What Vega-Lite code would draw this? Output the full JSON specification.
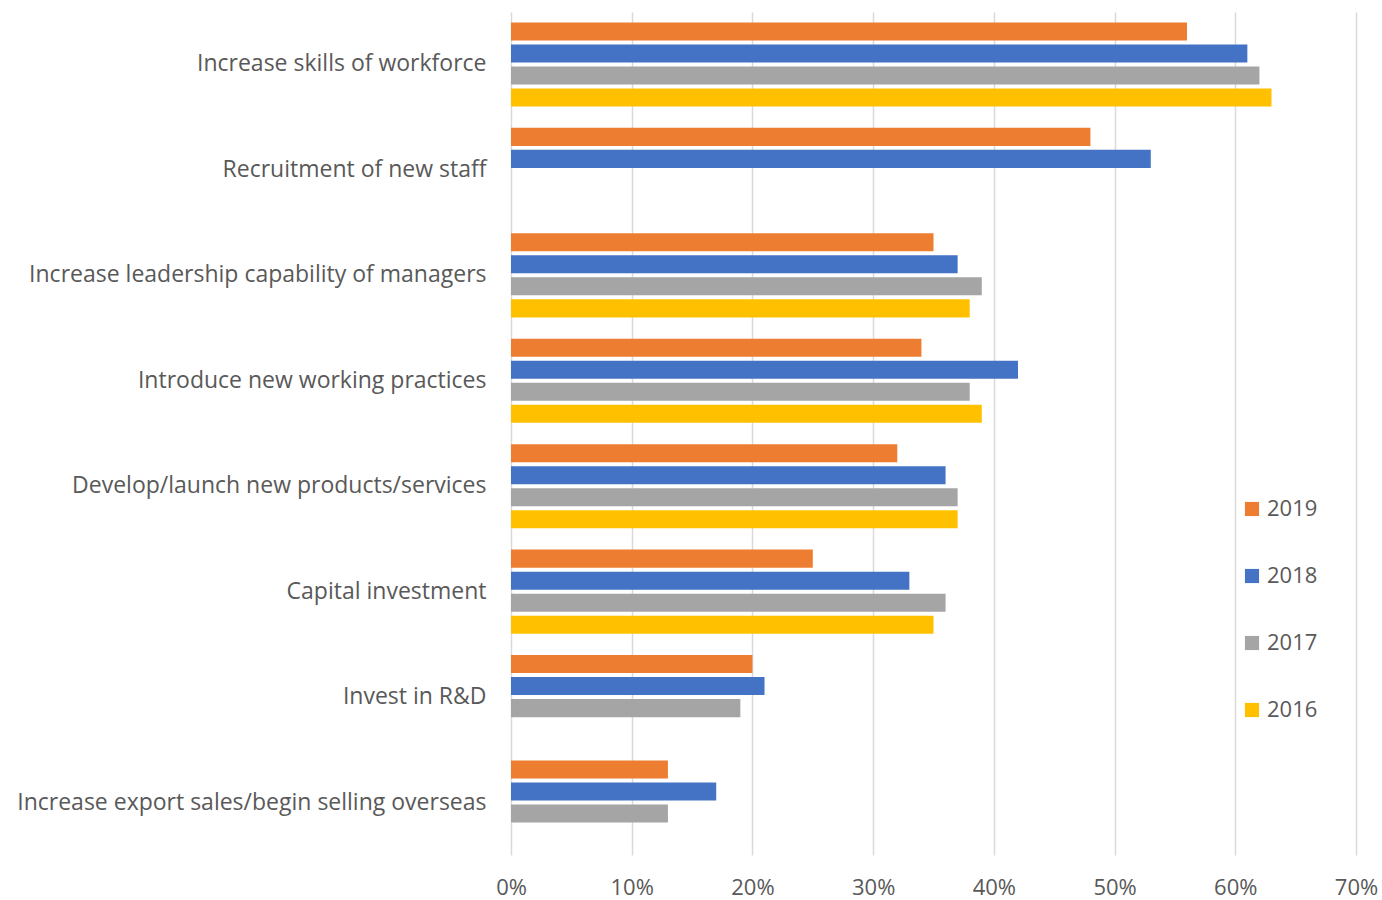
{
  "$schema": "https://vega.github.io/schema/vega-lite/v6.json",
  "width": 845,
  "height": 843,
  "autosize": "none",
  "padding": {"left": 511, "top": 12, "right": 26, "bottom": 45},
  "background": "white",
  "config": {"view": {"stroke": null}, "font": "Open Sans"},
  "data": {
    "values": [
      {"category": "Increase skills of workforce", "year": "2019", "value": 0.56},
      {"category": "Increase skills of workforce", "year": "2018", "value": 0.61},
      {"category": "Increase skills of workforce", "year": "2017", "value": 0.62},
      {"category": "Increase skills of workforce", "year": "2016", "value": 0.63},
      {"category": "Recruitment of new staff", "year": "2019", "value": 0.48},
      {"category": "Recruitment of new staff", "year": "2018", "value": 0.53},
      {"category": "Increase leadership capability of managers", "year": "2019", "value": 0.35},
      {"category": "Increase leadership capability of managers", "year": "2018", "value": 0.37},
      {"category": "Increase leadership capability of managers", "year": "2017", "value": 0.39},
      {"category": "Increase leadership capability of managers", "year": "2016", "value": 0.38},
      {"category": "Introduce new working practices", "year": "2019", "value": 0.34},
      {"category": "Introduce new working practices", "year": "2018", "value": 0.42},
      {"category": "Introduce new working practices", "year": "2017", "value": 0.38},
      {"category": "Introduce new working practices", "year": "2016", "value": 0.39},
      {"category": "Develop/launch new products/services", "year": "2019", "value": 0.32},
      {"category": "Develop/launch new products/services", "year": "2018", "value": 0.36},
      {"category": "Develop/launch new products/services", "year": "2017", "value": 0.37},
      {"category": "Develop/launch new products/services", "year": "2016", "value": 0.37},
      {"category": "Capital investment", "year": "2019", "value": 0.25},
      {"category": "Capital investment", "year": "2018", "value": 0.33},
      {"category": "Capital investment", "year": "2017", "value": 0.36},
      {"category": "Capital investment", "year": "2016", "value": 0.35},
      {"category": "Invest in R&D", "year": "2019", "value": 0.20},
      {"category": "Invest in R&D", "year": "2018", "value": 0.21},
      {"category": "Invest in R&D", "year": "2017", "value": 0.19},
      {"category": "Increase export sales/begin selling overseas", "year": "2019", "value": 0.13},
      {"category": "Increase export sales/begin selling overseas", "year": "2018", "value": 0.17},
      {"category": "Increase export sales/begin selling overseas", "year": "2017", "value": 0.13}
    ]
  },
  "mark": {"type": "bar"},
  "encoding": {
    "y": {
      "field": "category",
      "type": "nominal",
      "sort": null,
      "title": null,
      "scale": {"paddingInner": 0.165, "paddingOuter": 0.08},
      "axis": {
        "domain": false,
        "ticks": false,
        "labelFontSize": 23,
        "labelColor": "#595959",
        "labelPadding": 25,
        "labelLimit": 600
      }
    },
    "yOffset": {
      "field": "year",
      "type": "nominal",
      "sort": ["2019", "2018", "2017", "2016"],
      "scale": {"paddingInner": 0.18, "paddingOuter": 0.09}
    },
    "x": {
      "field": "value",
      "type": "quantitative",
      "title": null,
      "scale": {"domain": [0, 0.7], "nice": false},
      "axis": {
        "format": "%",
        "values": [0, 0.1, 0.2, 0.3, 0.4, 0.5, 0.6, 0.7],
        "domain": false,
        "ticks": false,
        "grid": true,
        "gridColor": "#d9d9d9",
        "gridWidth": 1.5,
        "labelFlush": false,
        "labelFontSize": 22,
        "labelColor": "#595959",
        "labelPadding": 22
      }
    },
    "color": {
      "field": "year",
      "type": "nominal",
      "scale": {
        "domain": ["2019", "2018", "2017", "2016"],
        "range": ["#ED7D31", "#4472C4", "#A5A5A5", "#FFC000"]
      },
      "legend": {
        "title": null,
        "orient": "none",
        "legendX": 730,
        "legendY": 486,
        "symbolType": "square",
        "symbolSize": 200,
        "symbolStrokeWidth": 0,
        "labelFontSize": 22,
        "labelColor": "#595959",
        "rowPadding": 45,
        "labelOffset": 4
      }
    }
  }
}
